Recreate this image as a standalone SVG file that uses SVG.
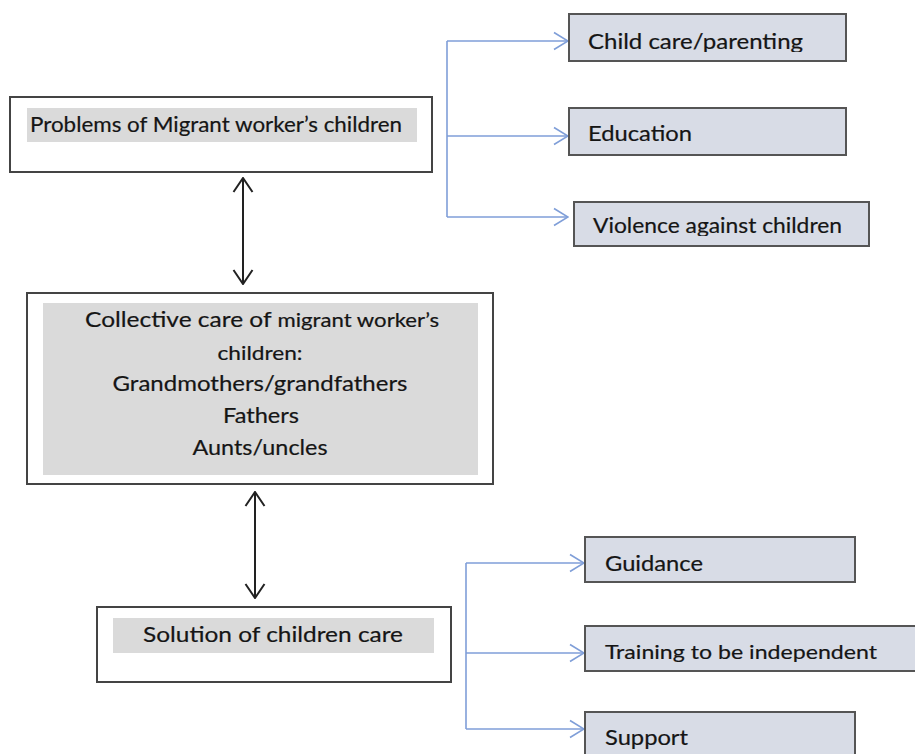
<svg xmlns="http://www.w3.org/2000/svg" width="915" height="754" viewBox="0 0 915 754">
<style>
.t{font-family:Lato,"Open Sans","Liberation Sans",sans-serif;fill:#151515;stroke:#151515;stroke-width:0.2;}
.wbox{fill:#ffffff;stroke:#444;stroke-width:2;}
.hl{fill:#dadada;}
.bbox{fill:#d8dce6;stroke:#555;stroke-width:2;}
.blue{fill:none;stroke:#7f9ed8;stroke-width:1.6;}
.blk{fill:none;stroke:#222;stroke-width:2;}
</style>
<defs>
<marker id="ah" viewBox="0 0 16 22" refX="15" refY="11" markerWidth="16" markerHeight="22" markerUnits="userSpaceOnUse" orient="auto-start-reverse">
<path d="M1,1.5 L15,11 L1,20.5" fill="none" stroke="#222" stroke-width="2"/>
</marker>
<marker id="bh" viewBox="0 0 16 20" refX="15" refY="10" markerWidth="16" markerHeight="20" markerUnits="userSpaceOnUse" orient="auto">
<path d="M1,1.5 L15,10 L1,18.5" fill="none" stroke="#7f9ed8" stroke-width="1.6"/>
</marker>
<clipPath id="c1"><rect x="560" y="0" width="300" height="52"/></clipPath>
<clipPath id="c2"><rect x="560" y="190" width="320" height="46"/></clipPath>
<clipPath id="c3"><rect x="590" y="620" width="325" height="42"/></clipPath>
</defs>

<g id="connectors">
<line class="blk" x1="243" y1="178" x2="243" y2="284" marker-start="url(#ah)" marker-end="url(#ah)"/>
<line class="blk" x1="255" y1="492" x2="255" y2="598" marker-start="url(#ah)" marker-end="url(#ah)"/>
<path class="blue" d="M447,41 L447,217"/>
<line class="blue" x1="447" y1="41" x2="568" y2="41" marker-end="url(#bh)"/>
<line class="blue" x1="447" y1="136" x2="568" y2="136" marker-end="url(#bh)"/>
<line class="blue" x1="447" y1="217" x2="568" y2="217" marker-end="url(#bh)"/>
<path class="blue" d="M466,563 L466,729"/>
<line class="blue" x1="466" y1="563" x2="584" y2="563" marker-end="url(#bh)"/>
<line class="blue" x1="466" y1="653" x2="584" y2="653" marker-end="url(#bh)"/>
<line class="blue" x1="466" y1="729" x2="584" y2="729" marker-end="url(#bh)"/>
</g>

<g id="problems">
<rect class="wbox" x="10" y="97" width="422" height="75"/>
<rect class="hl" x="27" y="108" width="390" height="34"/>
<text class="t" x="30" y="132" font-size="22" textLength="372" lengthAdjust="spacingAndGlyphs">Problems of Migrant worker’s children</text>
</g>

<g id="childcare">
<rect class="bbox" x="569" y="14" width="277" height="47"/>
<text class="t" x="588" y="49" font-size="21" textLength="215" lengthAdjust="spacingAndGlyphs" clip-path="url(#c1)">Child care/parenting</text>
</g>

<g id="education">
<rect class="bbox" x="569" y="108" width="277" height="47"/>
<text class="t" x="588" y="141" font-size="21" textLength="104" lengthAdjust="spacingAndGlyphs">Education</text>
</g>

<g id="violence">
<rect class="bbox" x="574" y="202" width="295" height="44"/>
<text class="t" x="593" y="233" font-size="21" textLength="249" lengthAdjust="spacingAndGlyphs" clip-path="url(#c2)">Violence against children</text>
</g>

<g id="collective">
<rect class="wbox" x="27" y="293" width="466" height="191"/>
<rect class="hl" x="43" y="303" width="435" height="172"/>
<text class="t" x="85" y="327" font-size="21" textLength="354" lengthAdjust="spacingAndGlyphs">Collective care of <tspan font-size="19">migrant worker’s</tspan></text>
<text class="t" x="260" y="360" font-size="19" text-anchor="middle" textLength="85" lengthAdjust="spacingAndGlyphs">children:</text>
<text class="t" x="260" y="391" font-size="21" text-anchor="middle" textLength="295" lengthAdjust="spacingAndGlyphs">Grandmothers/grandfathers</text>
<text class="t" x="261" y="423" font-size="21" text-anchor="middle" textLength="76" lengthAdjust="spacingAndGlyphs">Fathers</text>
<text class="t" x="260" y="455" font-size="21" text-anchor="middle" textLength="135" lengthAdjust="spacingAndGlyphs">Aunts/uncles</text>
</g>

<g id="solution">
<rect class="wbox" x="97" y="607" width="354" height="75"/>
<rect class="hl" x="113" y="618" width="321" height="35"/>
<text class="t" x="143" y="642" font-size="21" textLength="260" lengthAdjust="spacingAndGlyphs">Solution of children care</text>
</g>

<g id="guidance">
<rect class="bbox" x="585" y="537" width="270" height="45"/>
<text class="t" x="605" y="571" font-size="21" textLength="98" lengthAdjust="spacingAndGlyphs">Guidance</text>
</g>

<g id="training">
<rect class="bbox" x="585" y="626" width="335" height="45"/>
<text class="t" x="605" y="659" font-size="20" textLength="272" lengthAdjust="spacingAndGlyphs" clip-path="url(#c3)">Training to be independent</text>
</g>

<g id="support">
<rect class="bbox" x="585" y="712" width="270" height="50"/>
<text class="t" x="605" y="745" font-size="21" textLength="83" lengthAdjust="spacingAndGlyphs">Support</text>
</g>
</svg>
